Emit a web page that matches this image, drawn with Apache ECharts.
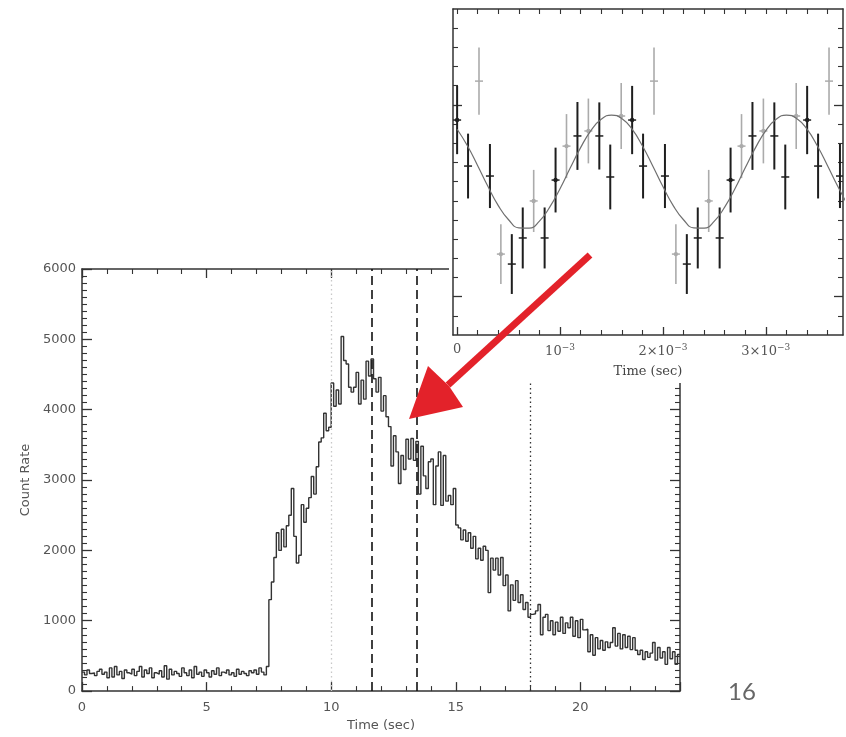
<!DOCTYPE html>
<html>
<head>
<meta charset="utf-8">
<script src="https://cdn.jsdelivr.net/npm/echarts@6/dist/echarts.min.js"></script>
<style>
  html, body { margin: 0; padding: 0; background: #fff; }
  #wrap { position: relative; width: 846px; height: 737px; }
  #main { position: absolute; left: 0; top: 0; width: 846px; height: 737px; }
  #inset { position: absolute; left: 449px; top: 0; width: 397px; height: 383px; background: #fff; }
  #overlay { position: absolute; left: 0; top: 0; width: 846px; height: 737px; pointer-events: none; }
</style>
</head>
<body>
<div id="wrap">
  <div id="main"></div>
  <div id="inset"></div>
  <div id="overlay"></div>
</div>
<script>
// ---- Burst light curve: count rate in 0.1 s bins starting at t = 0 s ----
const binStart = 0;
const binWidth = 0.1;
const countRate = [
  270, 230, 300, 250, 260, 220, 280, 310, 240, 270,
  190, 330, 200, 350, 230, 280, 180, 300, 260, 240,
  310, 220, 280, 350, 200, 300, 250, 330, 190, 260,
  240, 290, 200, 360, 170, 310, 230, 280, 250, 210,
  330, 260, 220, 300, 190, 350, 240, 270, 210, 300,
  260, 200, 290, 240, 330, 220, 270, 250, 300, 230,
  260, 210, 310, 240, 280, 250, 220, 290, 260, 300,
  240, 330, 270, 230, 350, 1300, 1550, 1900, 2250, 2000,
  2300, 2050, 2350, 2500, 2880, 2200, 1820, 1930, 2650, 2400,
  2600, 2750, 3050, 2800, 3190, 3540, 3600, 3950, 3700, 3750,
  4380, 4050, 4280, 4080, 5040, 4700, 4650, 4320, 4250, 4320,
  4530, 4080, 4420, 4150, 4690, 4480, 4720, 4440, 4250, 4460,
  3980, 4200, 3900, 3760, 3200, 3630, 3400, 2950, 3350, 3150,
  3580, 3300, 3590, 3280, 3550, 2800, 3480, 3060, 2880, 3260,
  3300, 2650, 3200, 3400, 2640, 3350, 2700, 2780, 2650, 2880,
  2360, 2320, 2150, 2290, 2130, 2250, 2030, 2200, 1880, 2030,
  1860, 2060, 2000, 1400, 1890, 1720, 1890, 1650, 1900, 1500,
  1650, 1140, 1510, 1290, 1570, 1260, 1370, 1160, 1260, 1050,
  1090, 1100, 1140, 1230, 800, 1050, 1090, 860, 1000, 800,
  980, 850, 1050, 820, 970, 900, 1050, 780, 1000, 760,
  1020, 870, 880, 560, 800, 510, 760, 600, 720, 580,
  700, 620, 690, 900, 640, 820, 600, 800, 620, 780,
  590, 760, 580, 520, 580, 450, 560, 480, 540, 690,
  440, 620, 470, 560, 380, 620, 460, 560, 380, 520
];
// interval markers (s)
const dottedTimes = [10.0, 18.0];
const dashedTimes = [11.62, 13.43];
// main frame ranges and labelled ticks
const mainTimeMax = 24;
const mainRateMax = 6000;
const mainTimeStep = 5;
const mainRateStep = 1000;
const mainLabelsX = [0, 5, 10, 15, 20];

// ---- Folded pulse profile (inset) ----
const pulseBinWidth = 0.0001063;          // s
const pulseCycles = 3;
const pulseRate = [11.21, 8.81, 13.24, 8.29, 4.22, 3.70, 5.06, 6.99, 5.06, 8.08, 9.85, 10.38, 10.64, 10.38, 8.24, 11.42];
const pulseErr  = [1.78, 1.69, 1.75, 1.67, 1.56, 1.56, 1.59, 1.62, 1.59, 1.69, 1.67, 1.77, 1.69, 1.75, 1.69, 1.72];
const pulseDark = [1, 1, 0, 1, 0, 1, 1, 0, 1, 1, 0, 1, 0, 1, 1, 0];
const pulseStar = [1, 0, 0, 0, 1, 0, 0, 1, 0, 1, 1, 0, 1, 0, 0, 1];
// sinusoidal model sampled every 0.1 ms
const modelStep = 0.0001;
const modelRate = [
  10.73, 9.87, 8.83, 7.74, 6.75, 6.01, 5.59, 5.57, 5.94, 6.67,
  7.63, 8.72, 9.77, 10.66, 11.25, 11.47, 11.29, 10.73, 9.87, 8.83,
  7.74, 6.75, 6.01, 5.59, 5.57, 5.94, 6.67, 7.63, 8.72, 9.77,
  10.66, 11.25, 11.47, 11.29, 10.73, 9.87, 8.83, 7.74, 6.75
];
const insetTimeMin = -0.00004;
const insetTimeMax = 0.00375;
const insetMajorTicks = [0, 0.001, 0.002, 0.003];
const insetMinorTicks = [0.0002, 0.0004, 0.0006, 0.0008, 0.0012, 0.0014, 0.0016, 0.0018,
  0.0022, 0.0024, 0.0026, 0.0028, 0.0032, 0.0034, 0.0036];
const insetMinorY = [1, 3, 4, 5, 6, 7, 8, 9, 10, 11, 13, 14, 15, 16];
const insetMajorY = [2, 12];

// ---- build series data ----
const curveData = countRate.map((v, i) => [+(binStart + i * binWidth).toFixed(2), v]);
curveData.push([+(binStart + countRate.length * binWidth).toFixed(2), countRate[countRate.length - 1]]);

const pulseData = [];
for (let k = 0; k < pulseCycles; k++) {
  pulseRate.forEach((r, i) => {
    const t = (k * pulseRate.length + i) * pulseBinWidth;
    if (t <= insetTimeMax) pulseData.push([t, r, pulseErr[i], pulseDark[i], pulseStar[i]]);
  });
}
const modelData = modelRate.map((v, i) => [i * modelStep, v]);

const AX = '#333';
const LBL = '#555';
const sansFont = 'DejaVu Sans';
const serifFont = 'DejaVu Serif';
const lineStyleAxis = { show: true, onZero: false, lineStyle: { color: AX, width: 1.5 } };
const noLine = { show: false, onZero: false };

// =================== main light curve ===================
const markLines = [];
dottedTimes.forEach((t, i) => markLines.push({
  xAxis: t,
  lineStyle: { type: [1.5, 3], color: i === 0 ? '#c8c8c8' : '#333', width: 1.3 }
}));
dashedTimes.forEach(t => markLines.push({
  xAxis: t,
  lineStyle: { type: [9, 5], color: '#111', width: 1.6 }
}));

function mainXAxis(position, labelled) {
  return {
    type: 'value', position: position, min: 0, max: mainTimeMax, interval: mainTimeStep,
    axisLine: lineStyleAxis,
    axisTick: { show: true, inside: true, length: 9, lineStyle: { color: AX, width: 1.3 } },
    minorTick: { show: true, splitNumber: 5, length: 5, lineStyle: { color: AX, width: 1.1 } },
    splitLine: { show: false }, minorSplitLine: { show: false },
    axisLabel: labelled
      ? { show: true, customValues: mainLabelsX, color: LBL, fontFamily: sansFont, fontSize: 13, margin: 10 }
      : { show: false }
  };
}
function mainYAxis(position, labelled) {
  return {
    type: 'value', position: position, min: 0, max: mainRateMax, interval: mainRateStep,
    axisLine: lineStyleAxis,
    axisTick: { show: true, inside: true, length: 10, lineStyle: { color: AX, width: 1.3 } },
    minorTick: { show: true, splitNumber: 10, length: 5, lineStyle: { color: AX, width: 1.1 } },
    splitLine: { show: false }, minorSplitLine: { show: false },
    axisLabel: labelled
      ? { show: true, color: LBL, fontFamily: sansFont, fontSize: 13, margin: 6, formatter: v => String(v) }
      : { show: false }
  };
}

const mainX = mainXAxis('bottom', true);
Object.assign(mainX, {
  name: 'Time (sec)', nameLocation: 'middle', nameGap: 27,
  nameTextStyle: { color: LBL, fontFamily: sansFont, fontSize: 13 }
});
const mainY = mainYAxis('left', true);
Object.assign(mainY, {
  name: 'Count Rate', nameLocation: 'middle', nameGap: 48, nameRotate: 90,
  nameTextStyle: { color: LBL, fontFamily: sansFont, fontSize: 13 }
});

const mainChart = echarts.init(document.getElementById('main'), null, { renderer: 'canvas' });
mainChart.setOption({
  animation: false,
  grid: { left: 82, top: 269, width: 598, height: 425 },
  xAxis: [mainX, mainXAxis('top', false)],
  yAxis: [mainY, mainYAxis('right', false)],
  series: [{
    type: 'line', xAxisIndex: 0, yAxisIndex: 0, data: curveData, step: 'end',
    symbol: 'none', silent: true,
    lineStyle: { color: '#333', width: 1.4 },
    markLine: { silent: true, symbol: 'none', animation: false, label: { show: false }, data: markLines }
  }]
});

// =================== inset: folded pulse profile ===================
function insetAxis(position, min, max, tickVals, tickLen, extra) {
  return Object.assign({
    type: 'value', position: position, min: min, max: max,
    axisLine: noLine,
    axisTick: { show: true, inside: true, length: tickLen, customValues: tickVals,
                lineStyle: { color: AX, width: tickLen > 6 ? 1.3 : 1.1 } },
    splitLine: { show: false }, axisLabel: { show: false }
  }, extra || {});
}
function insetLabel(v) {
  const m = Math.round(v * 1000);
  if (m === 0) return '{b|0}';
  if (m === 1) return '{b|10}{s|−3}';
  return '{b|' + m + '×10}{s|−3}';
}

const insetChart = echarts.init(document.getElementById('inset'), null, { renderer: 'canvas' });
insetChart.setOption({
  animation: false,
  backgroundColor: '#fff',
  grid: { left: 4, top: 9, width: 390, height: 326 },
  xAxis: [
    insetAxis('bottom', insetTimeMin, insetTimeMax, insetMajorTicks, 8, {
      axisLine: lineStyleAxis,
      axisLabel: {
        customValues: insetMajorTicks, margin: 8, formatter: insetLabel,
        rich: {
          b: { color: LBL, fontFamily: serifFont, fontSize: 13 },
          s: { color: LBL, fontFamily: serifFont, fontSize: 9, padding: [0, 0, 9, 0] }
        }
      },
      name: 'Time (sec)', nameLocation: 'middle', nameGap: 30,
      nameTextStyle: { color: '#444', fontFamily: serifFont, fontSize: 13 }
    }),
    insetAxis('bottom', insetTimeMin, insetTimeMax, insetMinorTicks, 5),
    insetAxis('top', insetTimeMin, insetTimeMax, insetMajorTicks.concat(insetMinorTicks), 5, { axisLine: lineStyleAxis })
  ],
  yAxis: [
    insetAxis('left', 0, 17, insetMinorY, 5, { axisLine: lineStyleAxis }),
    insetAxis('right', 0, 17, insetMinorY, 5, { axisLine: lineStyleAxis }),
    insetAxis('left', 0, 17, insetMajorY, 9),
    insetAxis('right', 0, 17, insetMajorY, 9)
  ],
  series: [
    {
      type: 'line', xAxisIndex: 0, yAxisIndex: 0, data: modelData, smooth: true,
      symbol: 'none', silent: true, clip: true,
      lineStyle: { color: '#6f6f6f', width: 1.2 }
    },
    {
      type: 'custom', xAxisIndex: 0, yAxisIndex: 0, data: pulseData, clip: true, silent: true,
      renderItem: function (params, api) {
        const t = api.value(0), r = api.value(1), e = api.value(2);
        const dark = api.value(3), star = api.value(4);
        const c = api.coord([t, r]);
        const top = api.coord([t, r + e]);
        const bot = api.coord([t, r - e]);
        const col = dark ? '#1e1e1e' : '#ababab';
        const children = [
          { type: 'line', shape: { x1: c[0], y1: top[1], x2: c[0], y2: bot[1] }, style: { stroke: col, lineWidth: dark ? 2 : 1.6 } },
          { type: 'line', shape: { x1: c[0] - 4, y1: c[1], x2: c[0] + 4, y2: c[1] }, style: { stroke: col, lineWidth: 1.5 } }
        ];
        if (star) children.push({ type: 'circle', shape: { cx: c[0], cy: c[1], r: 2.2 }, style: { fill: col } });
        return { type: 'group', children: children };
      }
    }
  ]
});

// =================== annotation layer: arrow and slide number ===================
const overlay = echarts.init(document.getElementById('overlay'), null, { renderer: 'canvas' });
overlay.setOption({
  animation: false,
  graphic: [
    { type: 'line', silent: true, shape: { x1: 590, y1: 255, x2: 448, y2: 385 }, style: { stroke: '#e3222a', lineWidth: 7 } },
    { type: 'polygon', silent: true, shape: { points: [[428, 366], [409, 419], [463, 407], [449, 386]] }, style: { fill: '#e3222a' } },
    { type: 'text', silent: true, x: 742, y: 692, style: { text: '16', fill: '#666', font: '24px Lato', align: 'center', verticalAlign: 'middle' } }
  ]
});
</script>
</body>
</html>
